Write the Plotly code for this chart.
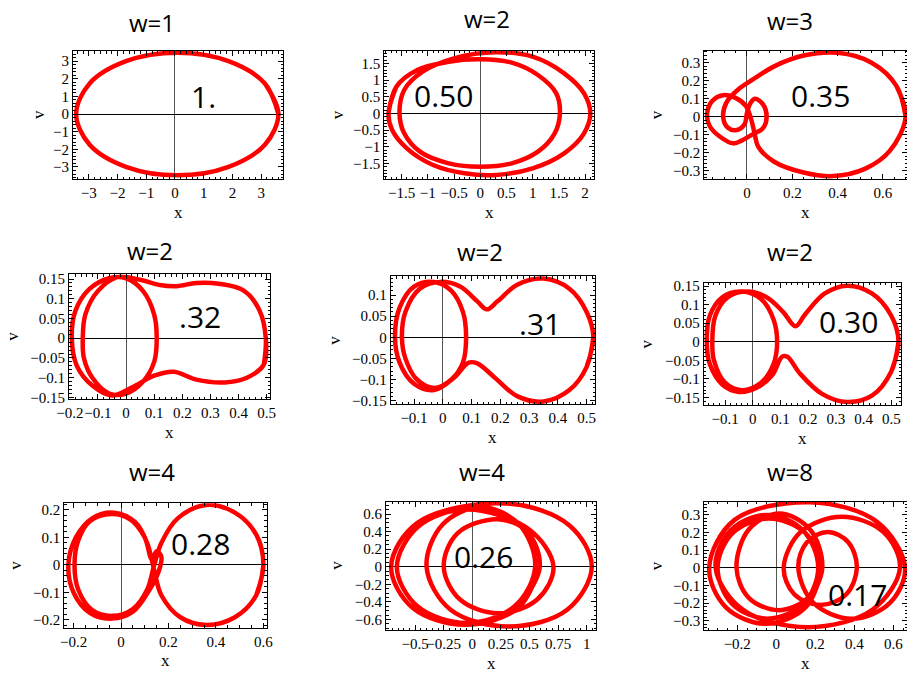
import plotly.graph_objects as go

W, H = 907, 675

# ---------------- data ----------------
titles = ["w=1", "w=2", "w=3", "w=2", "w=2", "w=2", "w=4", "w=4", "w=8"]
labels = ["1.", "0.50", "0.35", ".32", ".31", "0.30", "0.28", "0.26", "0.17"]
label_x = [0.99, -0.70, 0.323, 0.263, 0.338, 0.346, 0.333, 0.096, 0.414]
label_v = [0.98, 0.53, 0.12, 0.055, 0.033, 0.054, 0.079, 0.114, -0.154]

p1_x = [3.60, 3.13, 1.84, 0.08, -1.68, -2.97, -3.44, -2.97, -1.68, 0.08, 1.84, 3.13, 3.60, 3.13]
p1_v = [0, 1.735, 3.005, 3.47, 3.005, 1.735, 0, -1.735, -3.005, -3.47, -3.005, -1.735, 0, 1.735]

p2_x = [-1.75, -1.6, -1.2, -0.6, 0.0, 0.6, 1.1, 1.45, 1.52, 1.42, 1.1, 0.6, 0.0, -0.6, -1.15, -1.45,
        -1.54, -1.45, -1.1, -0.5, 0.3, 1.0, 1.6, 1.98, 2.1, 1.98, 1.6, 1.0, 0.3, -0.3, -0.9, -1.4,
        -1.68, -1.75, -1.6]
p2_v = [0, 0.8, 1.3, 1.55, 1.62, 1.52, 1.15, 0.6, 0, -0.6, -1.15, -1.5, -1.6, -1.5, -1.15, -0.6,
        0, 0.7, 1.25, 1.65, 1.83, 1.7, 1.2, 0.6, 0, -0.6, -1.2, -1.65, -1.85, -1.8, -1.55, -1.05,
        -0.5, 0, 0.8]

p3_x = [0.70, 0.66, 0.55, 0.40, 0.25, 0.12, 0.03, -0.04, -0.09, -0.105, -0.085, -0.045, -0.01, 0.0,
        0.015, 0.035, 0.07, 0.087, 0.07, 0.028, -0.02, -0.06, -0.12, -0.165, -0.176, -0.155, -0.105,
        -0.05, -0.005, 0.02, 0.035, 0.05, 0.12, 0.25, 0.38, 0.52, 0.63, 0.70, 0.66]
p3_v = [0, 0.17, 0.30, 0.355, 0.34, 0.28, 0.21, 0.15, 0.08, 0.0, -0.06, -0.074, -0.04, 0.02,
        0.075, 0.10, 0.07, 0.0, -0.065, -0.095, -0.13, -0.148, -0.11, -0.05, 0.01, 0.085, 0.12,
        0.105, 0.06, -0.02, -0.10, -0.167, -0.25, -0.31, -0.33, -0.29, -0.19, 0, 0.17]

p4_x = [0.497, 0.49, 0.43, 0.35, 0.25, 0.17, 0.10, 0.02, -0.05, -0.12, -0.175, -0.193, -0.18, -0.13,
        -0.06, 0.0, 0.06, 0.10, 0.109, 0.10, 0.06, 0.0, -0.06, -0.12, -0.15, -0.154, -0.145, -0.10,
        -0.03, 0.05, 0.12, 0.18, 0.25, 0.33, 0.42, 0.475, 0.497, 0.49]
p4_v = [0, -0.067, -0.10, -0.112, -0.105, -0.085, -0.095, -0.125, -0.145, -0.12, -0.07, 0, 0.07, 0.125,
        0.152, 0.152, 0.12, 0.06, 0, -0.06, -0.11, -0.14, -0.14, -0.10, -0.05, 0, 0.06, 0.12,
        0.155, 0.148, 0.135, 0.132, 0.14, 0.138, 0.12, 0.07, 0, -0.067]

p5_x = [0.523, 0.50, 0.44, 0.35, 0.26, 0.18, 0.12, 0.09, 0.04, -0.03, -0.10, -0.15, -0.166, -0.15,
        -0.10, -0.03, 0.03, 0.07, 0.081, 0.07, 0.03, -0.03, -0.09, -0.13, -0.142, -0.13, -0.08,
        -0.01, 0.06, 0.12, 0.153, 0.19, 0.26, 0.35, 0.44, 0.50, 0.523, 0.50]
p5_v = [0, -0.07, -0.125, -0.152, -0.14, -0.095, -0.062, -0.06, -0.095, -0.125, -0.11, -0.06, 0, 0.07,
        0.12, 0.131, 0.11, 0.06, 0, -0.06, -0.10, -0.12, -0.10, -0.05, 0, 0.06, 0.115,
        0.131, 0.12, 0.085, 0.066, 0.085, 0.125, 0.139, 0.115, 0.06, 0, -0.07]

p6_x = [0.526, 0.50, 0.43, 0.34, 0.25, 0.17, 0.125, 0.106, 0.07, 0.01, -0.05, -0.11, -0.155, -0.166,
        -0.155, -0.11, -0.04, 0.03, 0.075, 0.088, 0.075, 0.03, -0.04, -0.10, -0.14, -0.146, -0.135,
        -0.09, -0.02, 0.05, 0.11, 0.154, 0.19, 0.26, 0.34, 0.43, 0.50, 0.526, 0.50]
p6_v = [0, -0.08, -0.145, -0.162, -0.14, -0.085, -0.04, -0.04, -0.09, -0.125, -0.135, -0.115, -0.06, 0,
        0.07, 0.12, 0.135, 0.115, 0.06, 0, -0.06, -0.11, -0.13, -0.11, -0.05, 0, 0.07,
        0.12, 0.135, 0.12, 0.08, 0.042, 0.075, 0.13, 0.151, 0.13, 0.07, 0, -0.08]

p7_x = [0.60, 0.57, 0.48, 0.36, 0.25, 0.17, 0.14, 0.11, 0.06, -0.03, -0.12, -0.19, -0.222, -0.20,
        -0.13, -0.04, 0.05, 0.12, 0.16, 0.17, 0.15, 0.13, 0.10, 0.04, -0.04, -0.13, -0.18, -0.196,
        -0.18, -0.12, -0.035, 0.05, 0.11, 0.14, 0.17, 0.24, 0.36, 0.48, 0.57, 0.60, 0.57]
p7_v = [0, -0.11, -0.19, -0.218, -0.19, -0.11, -0.02, 0.08, 0.155, 0.19, 0.17, 0.10, 0, -0.10,
        -0.175, -0.195, -0.17, -0.09, -0.02, 0.03, 0.05, 0.02, 0.10, 0.165, 0.185, 0.16, 0.09, 0,
        -0.09, -0.165, -0.185, -0.16, -0.09, 0.0, 0.08, 0.17, 0.218, 0.19, 0.11, 0, -0.11]

p8_x = [0.59, 0.40, -0.06, -0.52, -0.71, -0.48, 0.30, 0.85, 1.045, 0.83, 0.32, -0.19, -0.40, -0.26,
        0.075, 0.41, 0.55, 0.37, -0.05, -0.48, -0.66, -0.47, -0.05, 0.50, 0.71, 0.57, 0.23, -0.11,
        -0.25, -0.13, 0.22, 0.48, 0.59, 0.40]
p8_v = [0, -0.47, -0.66, -0.47, 0, 0.50, 0.72, 0.47, 0, -0.49, -0.68, -0.49, 0, 0.48,
        0.68, 0.48, 0, -0.45, -0.64, -0.45, 0, 0.46, 0.65, 0.42, 0, -0.37, -0.53, -0.37,
        0, 0.38, 0.54, 0.40, 0, -0.47]

p9_x = [0.236, 0.150, -0.054, -0.258, -0.344, -0.215, 0.172, 0.516, 0.660, 0.580, 0.387, 0.193,
        0.113, 0.157, 0.263, 0.369, 0.413, 0.359, 0.226, 0.092, 0.038, 0.125, 0.336, 0.548, 0.634,
        0.494, 0.161, -0.172, -0.311, -0.234, -0.048, 0.137, 0.215, 0.140, -0.043, -0.226, -0.301,
        -0.223, -0.038, 0.148, 0.226, 0.162, 0.011, -0.141, -0.204, -0.140, 0.016, 0.172, 0.236,
        0.150]
p9_v = [0, -0.224, -0.317, -0.224, 0, 0.269, 0.37, 0.259, 0, -0.202, -0.288, -0.202,
        0, 0.144, 0.202, 0.144, 0, -0.15, -0.211, -0.15, 0, 0.202, 0.288, 0.202, 0,
        -0.237, -0.336, -0.237, 0, 0.211, 0.298, 0.211, 0, -0.204, -0.288, -0.204, 0,
        0.197, 0.278, 0.197, 0, -0.17, -0.24, -0.17, 0, 0.217, 0.307, 0.217, 0,
        -0.224]

xs = [p1_x, p2_x, p3_x, p4_x, p5_x, p6_x, p7_x, p8_x, p9_x]
vs = [p1_v, p2_v, p3_v, p4_v, p5_v, p6_v, p7_v, p8_v, p9_v]

# tick values / labels
x_tickvals = [
    [-3, -2, -1, 0, 1, 2, 3],
    [-1.5, -1, -0.5, 0, 0.5, 1, 1.5, 2],
    [0, 0.2, 0.4, 0.6],
    [-0.2, -0.1, 0, 0.1, 0.2, 0.3, 0.4, 0.5],
    [-0.1, 0, 0.1, 0.2, 0.3, 0.4, 0.5],
    [-0.1, 0, 0.1, 0.2, 0.3, 0.4, 0.5],
    [-0.2, 0, 0.2, 0.4, 0.6],
    [-0.5, -0.25, 0, 0.25, 0.5, 0.75, 1],
    [-0.2, 0, 0.2, 0.4, 0.6],
]
x_ticktext = [
    ["−3", "−2", "−1", "0", "1", "2", "3"],
    ["−1.5", "−1", "−0.5", "0", "0.5", "1", "1.5", "2"],
    ["0", "0.2", "0.4", "0.6"],
    ["−0.2", "−0.1", "0", "0.1", "0.2", "0.3", "0.4", "0.5"],
    ["−0.1", "0", "0.1", "0.2", "0.3", "0.4", "0.5"],
    ["−0.1", "0", "0.1", "0.2", "0.3", "0.4", "0.5"],
    ["−0.2", "0", "0.2", "0.4", "0.6"],
    ["−0.5", "−0.25", "0", "0.25", "0.5", "0.75", "1"],
    ["−0.2", "0", "0.2", "0.4", "0.6"],
]
y_tickvals = [
    [-3, -2, -1, 0, 1, 2, 3],
    [-1.5, -1, -0.5, 0, 0.5, 1, 1.5],
    [-0.3, -0.2, -0.1, 0, 0.1, 0.2, 0.3],
    [-0.15, -0.1, -0.05, 0, 0.05, 0.1, 0.15],
    [-0.15, -0.1, -0.05, 0, 0.05, 0.1],
    [-0.15, -0.1, -0.05, 0, 0.05, 0.1, 0.15],
    [-0.2, -0.1, 0, 0.1, 0.2],
    [-0.6, -0.4, -0.2, 0, 0.2, 0.4, 0.6],
    [-0.3, -0.2, -0.1, 0, 0.1, 0.2, 0.3],
]
y_ticktext = [
    ["−3", "−2", "−1", "0", "1", "2", "3"],
    ["−1.5", "−1", "−0.5", "0", "0.5", "1", "1.5"],
    ["−0.3", "−0.2", "−0.1", "0", "0.1", "0.2", "0.3"],
    ["−0.15", "−0.1", "−0.05", "0", "0.05", "0.1", "0.15"],
    ["−0.15", "−0.1", "−0.05", "0", "0.05", "0.1"],
    ["−0.15", "−0.1", "−0.05", "0", "0.05", "0.1", "0.15"],
    ["−0.2", "−0.1", "0", "0.1", "0.2"],
    ["−0.6", "−0.4", "−0.2", "0", "0.2", "0.4", "0.6"],
    ["−0.3", "−0.2", "−0.1", "0", "0.1", "0.2", "0.3"],
]

# ---------------- layout configuration ----------------
boxes = [(73, 283, 51, 179), (384.3, 594, 50.7, 179), (704.3, 907, 50.7, 179),
         (69, 270, 274.3, 399), (390.7, 595.3, 276, 404), (703.7, 901, 282.7, 405),
         (64.3, 266.7, 503.3, 627.7), (386, 596, 501.7, 630), (704.3, 907, 501.7, 630)]
x_ranges = [(-3.55, 3.76), (-1.83, 2.17), (-0.188, 0.706), (-0.203, 0.512), (-0.181, 0.53),
            (-0.177, 0.535), (-0.239, 0.614), (-0.755, 1.082), (-0.369, 0.670)]
y_ranges = [(-3.68, 3.57), (-1.97, 1.88), (-0.346, 0.367), (-0.154, 0.162), (-0.158, 0.145),
            (-0.17, 0.159), (-0.228, 0.224), (-0.72, 0.74), (-0.352, 0.373)]
x_minor = [0.2, 0.1, 0.05, 0.02, 0.02, 0.02, 0.05, 0.05, 0.05]
y_minor = [0.2, 0.1, 0.02, 0.01, 0.01, 0.01, 0.02, 0.05, 0.02]
v_offset = [35, 46, 47, 56, 56, 57, 49, 49, 47]
title_pos = [(152, 22), (486.7, 19), (790, 20), (150, 250), (480, 251.7), (790, 251.7),
             (151.7, 471.7), (481.7, 471.7), (790, 471.7)]


def px2paper_x(px):
    return px / W


def px2paper_y(py):
    return 1 - py / H


TICKFONT = dict(family="Liberation Serif", size=15, color="black")

fig = go.Figure()
annotations = []
layout = dict(width=W, height=H, margin=dict(l=0, r=0, t=0, b=0, pad=0, autoexpand=False),
              paper_bgcolor="white", plot_bgcolor="white", showlegend=False)

for i in range(9):
    n = "" if i == 0 else str(i + 1)
    l, r, t, b = boxes[i]
    xdom = [px2paper_x(l), min(px2paper_x(r), 1.0)]
    ydom = [px2paper_y(b), px2paper_y(t)]
    fig.add_trace(go.Scatter(
        x=xs[i], y=vs[i], mode="lines", xaxis="x" + n, yaxis="y" + n,
        line=dict(color="#ff0000", width=4.5, shape="spline", smoothing=1.0),
        hoverinfo="skip"))
    common = dict(showgrid=False, showline=True, linecolor="black", linewidth=1,
                  mirror="ticks", ticks="inside", ticklen=5, tickcolor="black",
                  tickfont=TICKFONT, tickmode="array", tickangle=0, automargin=False,
                  ticklabeloverflow="allow")
    layout["xaxis" + n] = dict(
        domain=xdom, range=list(x_ranges[i]), anchor="y" + n,
        tickvals=x_tickvals[i], ticktext=x_ticktext[i],
        zeroline=True, zerolinecolor="#555555", zerolinewidth=1,
        minor=dict(ticks="inside", ticklen=2.5, dtick=x_minor[i], tick0=0, tickcolor="black"),
        **common)
    layout["yaxis" + n] = dict(
        domain=ydom, range=list(y_ranges[i]), anchor="x" + n,
        tickvals=y_tickvals[i], ticktext=y_ticktext[i],
        zeroline=True, zerolinecolor="black", zerolinewidth=1,
        minor=dict(ticks="inside", ticklen=2.5, dtick=y_minor[i], tick0=0, tickcolor="black"),
        **common)
    annotations.append(dict(x=label_x[i], y=label_v[i], xref="x" + n, yref="y" + n,
                            text=labels[i], showarrow=False,
                            xanchor="center", yanchor="middle",
                            font=dict(family="Open Sans", size=30, color="black")))
    tx, ty = title_pos[i]
    annotations.append(dict(x=px2paper_x(tx), y=px2paper_y(ty), xref="paper", yref="paper",
                            text=titles[i], showarrow=False, borderpad=0,
                            xanchor="center", yanchor="middle",
                            font=dict(family="Open Sans", size=24, color="black")))
    annotations.append(dict(x=px2paper_x((l + min(r, W)) / 2), y=px2paper_y(b + 33),
                            xref="paper", yref="paper", text="x", showarrow=False,
                            xanchor="center", yanchor="middle",
                            font=dict(family="Liberation Serif", size=17, color="black")))
    annotations.append(dict(x=px2paper_x(l - v_offset[i]), y=px2paper_y((t + b) / 2),
                            xref="paper", yref="paper", text="v", showarrow=False,
                            textangle=-90, xanchor="center", yanchor="middle",
                            font=dict(family="Liberation Serif", size=17, color="black")))

layout["annotations"] = annotations
fig.update_layout(**layout)
# the page's default body margin would shift the figure; remove it
fig.write_html("out.html", config={"displayModeBar": False},
               post_script="document.body.style.margin='0';document.body.style.overflow='hidden';")
